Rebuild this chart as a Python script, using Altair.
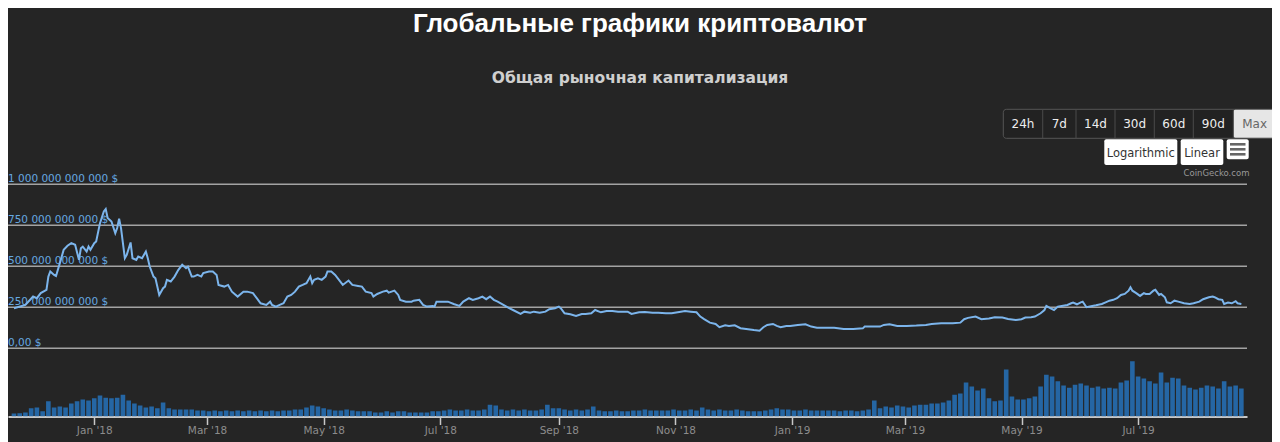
import altair as alt
import pandas as pd

# ---- market cap line (billions USD) ----
line_dates = [
    "2017-11-20", "2017-11-26", "2017-11-30", "2017-12-02", "2017-12-04", "2017-12-07", "2017-12-08",
    "2017-12-09", "2017-12-11", "2017-12-12", "2017-12-14", "2017-12-16", "2017-12-18", "2017-12-20",
    "2017-12-22", "2017-12-24", "2017-12-25", "2017-12-26", "2017-12-28", "2017-12-29", "2017-12-30",
    "2018-01-01", "2018-01-02", "2018-01-04", "2018-01-06", "2018-01-07", "2018-01-08", "2018-01-09",
    "2018-01-10", "2018-01-12", "2018-01-13", "2018-01-14", "2018-01-15", "2018-01-17", "2018-01-18",
    "2018-01-20", "2018-01-21", "2018-01-23", "2018-01-24", "2018-01-26", "2018-01-28", "2018-01-29",
    "2018-01-30", "2018-02-01", "2018-02-02", "2018-02-04", "2018-02-06", "2018-02-07", "2018-02-08",
    "2018-02-10", "2018-02-12", "2018-02-14", "2018-02-16", "2018-02-18", "2018-02-19", "2018-02-21",
    "2018-02-22", "2018-02-24", "2018-02-26", "2018-02-27", "2018-03-02", "2018-03-04", "2018-03-06",
    "2018-03-07", "2018-03-10", "2018-03-12", "2018-03-14", "2018-03-17", "2018-03-18", "2018-03-20",
    "2018-03-22", "2018-03-25", "2018-03-27", "2018-03-29", "2018-04-01", "2018-04-03", "2018-04-04",
    "2018-04-06", "2018-04-08", "2018-04-10", "2018-04-12", "2018-04-14", "2018-04-16", "2018-04-18",
    "2018-04-20", "2018-04-22", "2018-04-24", "2018-04-25", "2018-04-26", "2018-04-28", "2018-04-30",
    "2018-05-02", "2018-05-03", "2018-05-05", "2018-05-07", "2018-05-09", "2018-05-11", "2018-05-14",
    "2018-05-16", "2018-05-19", "2018-05-21", "2018-05-23", "2018-05-26", "2018-05-27", "2018-05-29",
    "2018-06-01", "2018-06-03", "2018-06-04", "2018-06-07", "2018-06-09", "2018-06-10", "2018-06-13",
    "2018-06-16", "2018-06-17", "2018-06-20", "2018-06-22", "2018-06-24", "2018-06-27", "2018-06-28",
    "2018-06-29", "2018-07-02", "2018-07-05", "2018-07-08", "2018-07-11", "2018-07-13", "2018-07-16",
    "2018-07-18", "2018-07-21", "2018-07-23", "2018-07-25", "2018-07-27", "2018-07-29", "2018-07-31",
    "2018-08-03", "2018-08-06", "2018-08-08", "2018-08-12", "2018-08-14", "2018-08-17", "2018-08-19",
    "2018-08-22", "2018-08-25", "2018-08-27", "2018-08-30", "2018-09-01", "2018-09-02", "2018-09-04",
    "2018-09-07", "2018-09-10", "2018-09-13", "2018-09-15", "2018-09-18", "2018-09-20", "2018-09-23",
    "2018-09-26", "2018-09-29", "2018-10-02", "2018-10-07", "2018-10-09", "2018-10-13", "2018-10-16",
    "2018-10-20", "2018-10-23", "2018-10-27", "2018-10-30", "2018-11-03", "2018-11-06", "2018-11-09",
    "2018-11-12", "2018-11-14", "2018-11-16", "2018-11-19", "2018-11-22", "2018-11-24", "2018-11-27",
    "2018-11-29", "2018-12-02", "2018-12-05", "2018-12-09", "2018-12-12", "2018-12-15", "2018-12-17",
    "2018-12-19", "2018-12-22", "2018-12-24", "2018-12-26", "2018-12-29", "2018-12-31", "2019-01-04",
    "2019-01-08", "2019-01-11", "2019-01-14", "2019-01-18", "2019-01-23", "2019-01-28", "2019-02-02",
    "2019-02-07", "2019-02-08", "2019-02-12", "2019-02-16", "2019-02-18", "2019-02-21", "2019-02-25",
    "2019-03-02", "2019-03-07", "2019-03-12", "2019-03-15", "2019-03-20", "2019-03-26", "2019-03-30",
    "2019-04-01", "2019-04-03", "2019-04-07", "2019-04-10", "2019-04-14", "2019-04-17", "2019-04-21",
    "2019-04-24", "2019-04-28", "2019-05-01", "2019-05-03", "2019-05-06", "2019-05-08", "2019-05-11",
    "2019-05-13", "2019-05-14", "2019-05-16", "2019-05-18", "2019-05-20", "2019-05-22", "2019-05-25",
    "2019-05-27", "2019-05-28", "2019-05-30", "2019-06-01", "2019-06-02", "2019-06-04", "2019-06-07",
    "2019-06-09", "2019-06-12", "2019-06-14", "2019-06-16", "2019-06-18", "2019-06-20", "2019-06-22",
    "2019-06-24", "2019-06-26", "2019-06-27", "2019-06-28", "2019-06-30", "2019-07-02", "2019-07-04",
    "2019-07-05", "2019-07-07", "2019-07-09", "2019-07-10", "2019-07-12", "2019-07-13", "2019-07-15",
    "2019-07-16", "2019-07-18", "2019-07-20", "2019-07-22", "2019-07-25", "2019-07-28", "2019-07-30",
    "2019-08-02", "2019-08-04", "2019-08-07", "2019-08-09", "2019-08-10", "2019-08-12", "2019-08-14",
    "2019-08-15", "2019-08-17", "2019-08-19", "2019-08-21", "2019-08-22", "2019-08-24",
]
line_caps = [
    244, 264, 315, 305, 336, 356, 437,
    468, 447, 440, 519, 600, 625, 641,
    631, 539, 610, 620, 590, 620, 600,
    641, 651, 763, 834, 849, 794, 784,
    773, 702, 733, 790, 733, 549, 570,
    645, 549, 539, 559, 549, 590, 549,
    498, 437, 427, 325, 366, 376, 417,
    407, 437, 478, 509, 488, 498, 437,
    437, 447, 437, 458, 468, 468, 447,
    386, 376, 386, 345, 315, 325, 345,
    345, 336, 305, 274, 264, 284, 264,
    254, 264, 274, 315, 325, 345, 376,
    386, 397, 437, 397, 417, 427, 417,
    437, 468, 468, 447, 417, 386, 413,
    386, 380, 376, 345, 336, 315, 331,
    345, 351, 339, 351, 325, 295, 284,
    284, 290, 295, 264, 254, 258, 254,
    284, 284, 284, 270, 258, 284, 305,
    295, 305, 315, 299, 315, 295, 284,
    264, 244, 233, 209, 223, 217, 223,
    217, 223, 238, 244, 254, 244, 213,
    207, 197, 209, 209, 213, 233, 219,
    227, 227, 223, 223, 209, 219, 221,
    217, 217, 213, 213, 221, 227, 223,
    219, 193, 177, 156, 148, 128, 140,
    136, 140, 122, 116, 111, 107, 128,
    142, 148, 136, 128, 136, 136, 142,
    146, 132, 125, 125, 125, 117, 117,
    121, 132, 132, 132, 142, 146, 136,
    136, 138, 142, 148, 152, 152, 156,
    177, 185, 193, 177, 181, 189, 187,
    178, 172, 177, 187, 189, 193, 213,
    233, 258, 244, 233, 254, 258, 264,
    274, 278, 268, 280, 284, 250, 258,
    262, 270, 280, 290, 295, 305, 325,
    331, 351, 372, 351, 336, 319, 336,
    331, 331, 351, 356, 325, 331, 311,
    280, 274, 290, 284, 274, 270, 274,
    284, 299, 311, 315, 311, 299, 295,
    270, 278, 274, 287, 274, 270,
]

# ---- volume bars (billions USD), one value every 3 days from 2017-11-20 ----
vol_start = "2017-11-20"
vol_values = [
    8, 9, 11, 22, 24, 14, 41, 24, 27, 24,
    35, 41, 46, 43, 49, 57, 51, 49, 51, 59,
    43, 35, 30, 24, 27, 22, 38, 22, 19, 19,
    19, 19, 16, 16, 14, 16, 14, 16, 14, 16,
    14, 16, 14, 16, 14, 16, 14, 16, 16, 19,
    19, 24, 30, 27, 22, 19, 16, 16, 19, 16,
    14, 14, 14, 11, 11, 14, 11, 14, 14, 11,
    11, 11, 11, 14, 14, 16, 19, 16, 16, 19,
    16, 16, 19, 32, 30, 19, 16, 19, 16, 19,
    16, 16, 19, 32, 22, 22, 19, 16, 19, 16,
    19, 27, 16, 14, 14, 16, 14, 14, 16, 16,
    19, 16, 16, 16, 16, 19, 16, 16, 19, 16,
    24, 19, 16, 19, 16, 16, 19, 16, 14, 14,
    14, 16, 19, 22, 19, 19, 16, 16, 19, 16,
    16, 16, 16, 16, 14, 16, 16, 14, 16, 19,
    43, 22, 27, 24, 30, 27, 24, 30, 32, 32,
    35, 35, 38, 43, 59, 62, 92, 81, 70, 76,
    49, 41, 43, 127, 54, 46, 46, 49, 54, 81,
    113, 108, 95, 84, 78, 86, 89, 84, 78, 81,
    76, 78, 76, 92, 97, 149, 108, 103, 95, 89,
    119, 92, 105, 103, 84, 78, 73, 78, 84, 81,
    76, 95, 81, 84, 76,
]

grid_values = [0, 250, 500, 750, 1000]
grid_labels = ["0,00 $", "250 000 000 000 $", "500 000 000 000 $",
               "750 000 000 000 $", "1 000 000 000 000 $"]

tick_months = [(2018, 1), (2018, 3), (2018, 5), (2018, 7), (2018, 9), (2018, 11),
               (2019, 1), (2019, 3), (2019, 5), (2019, 7)]

title_text = "Глобальные графики криптовалют"
subtitle_text = "Общая рыночная капитализация"
range_buttons = ["24h", "7d", "14d", "30d", "60d", "90d", "Max"]

# ---- tables ----
line_df = pd.DataFrame({"date": pd.to_datetime(line_dates), "cap": line_caps})
vol_df = pd.DataFrame({
    "date": pd.date_range(vol_start, periods=len(vol_values), freq="3D"),
    "vol": vol_values,
})
grid_df = pd.DataFrame({"v": grid_values, "label": grid_labels})

BG = "#252525"
FONT = "DejaVu Sans"

x_scale = alt.Scale(
    domain=[alt.DateTime(year=2017, month=11, date=19, hours=12),
            alt.DateTime(year=2019, month=8, date=24, hours=8)],
    nice=False,
)
x_axis = alt.Axis(
    values=[alt.DateTime(year=y, month=m, date=1) for y, m in tick_months],
    format="%b '%y", title=None, grid=False,
    labelColor="#8c8c8c", labelFont=FONT, labelFontSize=10.5, labelPadding=1,
    labelOverlap=False, labelFlush=False,
    tickColor="#c8c8c8", tickSize=8, tickWidth=1.5,
    domainColor="#c8c8c8", domainWidth=2,
)
x_enc = alt.X("date:T", scale=x_scale, axis=x_axis)

main_scale = alt.Scale(domain=[0, 1000], range=[340.2, 176.3], nice=False, zero=False)
vol_scale = alt.Scale(domain=[0, 150], range=[408.5, 353], nice=False, zero=False)

grid = alt.Chart(grid_df).mark_rule(color="#a3a3a3", strokeWidth=1.5).encode(
    y=alt.Y("v:Q", scale=main_scale, axis=None)
)
grid_text = alt.Chart(grid_df).mark_text(
    align="left", baseline="alphabetic", dy=-2.5, font=FONT, fontSize=10.5, color="#66a8e0"
).encode(
    x=alt.value(0), y=alt.Y("v:Q", scale=main_scale, axis=None), text="label:N"
)
line = alt.Chart(line_df).mark_line(color="#7cb5ec", strokeWidth=2, clip=True).encode(
    x=x_enc, y=alt.Y("cap:Q", scale=main_scale, axis=None)
)
main = alt.layer(grid, grid_text, line)

bars = alt.Chart(vol_df).mark_bar(color="#2566a4", size=4.6, clip=True).encode(
    x=x_enc, y=alt.Y("vol:Q", scale=vol_scale, axis=None)
)

one = alt.Data(values=[{"a": 0}])


def text_layer(txt, x, y, size, color, weight="normal", font=FONT, align="center"):
    return alt.Chart(one).mark_text(
        align=align, baseline="alphabetic", fontSize=size, color=color,
        fontWeight=weight, font=font
    ).encode(x=alt.value(x), y=alt.value(y), text=alt.value(txt))


def rect_layer(x1, x2, y1, y2, fill, stroke=None, radius=0, sw=1):
    kw = dict(color=fill, cornerRadius=radius)
    if stroke is not None:
        kw.update(stroke=stroke, strokeWidth=sw)
    return alt.Chart(one).mark_rect(**kw).encode(
        x=alt.value(x1), x2=alt.value(x2), y=alt.value(y1), y2=alt.value(y2)
    )


deco = []
deco.append(text_layer(title_text, 632, 24, 26, "#ffffff", "bold", "Liberation Sans"))
deco.append(text_layer(subtitle_text, 632, 75, 15.5, "#cfcfcf", "bold"))

# range selector buttons
edges = [995.3, 1034.7, 1068, 1107, 1146.3, 1185.3, 1225.3, 1268]
deco.append(rect_layer(edges[0], edges[-1], 101.3, 130.3, "#222222", "#555555", 3))
deco.append(rect_layer(edges[-2], edges[-1], 101.8, 129.8, "#e6e6e6", None, 2))
for i, lab in enumerate(range_buttons):
    if 0 < i:
        deco.append(rect_layer(edges[i] - 0.5, edges[i] + 0.5, 101.3, 130.3, "#4a4a4a"))
    col = "#666666" if lab == "Max" else "#eeeeee"
    deco.append(text_layer(lab, (edges[i] + edges[i + 1]) / 2, 120, 12, col))

deco.append(rect_layer(1096.3, 1169.3, 131.3, 157, "#ffffff", None, 2))
deco.append(text_layer("Logarithmic", 1132.8, 149, 11.5, "#333333"))
deco.append(rect_layer(1172.7, 1215.3, 131.3, 157, "#ffffff", None, 2))
deco.append(text_layer("Linear", 1194, 149, 11.5, "#333333"))
deco.append(rect_layer(1218.7, 1240.7, 131.3, 151.3, "#ffffff", None, 2))
for yy in (135, 140, 145):
    deco.append(rect_layer(1222, 1237.5, yy, yy + 2.6, "#666666"))
deco.append(text_layer("CoinGecko.com", 1208.5, 168, 8.5, "#999999"))

chart = alt.layer(main, bars, *deco).resolve_scale(y="independent").properties(
    width=1239, height=408.5,
    autosize=alt.AutoSizeParams(type="none"),
    padding={"left": 0, "top": 0, "right": 25, "bottom": 26},
    background=BG,
).configure_view(stroke=None)

chart.save("out.html", embed_options={"renderer": "svg", "actions": False})
